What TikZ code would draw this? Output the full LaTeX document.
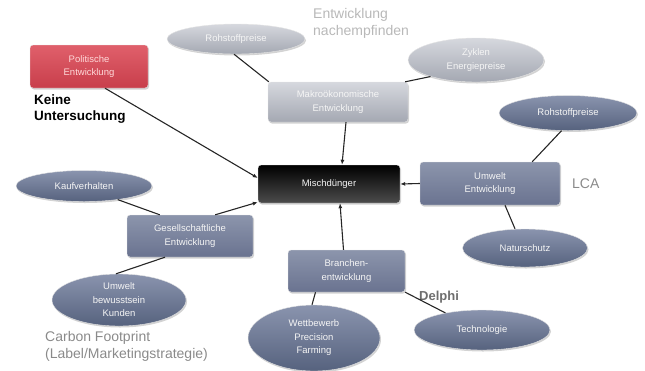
\documentclass[tikz,border=0pt]{standalone}
\usepackage{fontspec}
\setmainfont{Liberation Sans}
\usetikzlibrary{shapes.geometric,arrows.meta,shadows}
\definecolor{redA}{HTML}{E0606B}
\definecolor{redB}{HTML}{C83E4B}
\definecolor{lgA}{HTML}{D6D8DE}
\definecolor{lgB}{HTML}{A4A8B2}
\definecolor{bgA}{HTML}{8A94AE}
\definecolor{bgB}{HTML}{56627E}
\definecolor{rbA}{HTML}{8C95AC}
\definecolor{rbB}{HTML}{6A7390}
\definecolor{noteGray}{HTML}{8A8A8A}
\definecolor{noteDark}{HTML}{6E6E6E}
\definecolor{noteLight}{HTML}{B8B8B8}
\tikzset{
  every node/.style={inner sep=1pt},
  lbl/.style={text=white!92!gray, align=center, font=\fontsize{9.5}{13.5}\selectfont},
  rbox/.style={lbl, rectangle, rounded corners=3pt, draw=white!80!gray, line width=0.4pt,
     drop shadow={opacity=0.35, shadow xshift=1pt, shadow yshift=-1.5pt}},
  ell/.style={lbl, ellipse, draw=white!80!gray, line width=0.4pt, inner sep=0pt,
     drop shadow={opacity=0.35, shadow xshift=1pt, shadow yshift=-1.5pt}},
  redfill/.style={top color=redA, bottom color=redB, text=white!85!red},
  lightfill/.style={top color=lgA, bottom color=lgB},
  bluefill/.style={top color=bgA, bottom color=bgB},
  rectfill/.style={top color=rbA, bottom color=rbB},
  link/.style={draw=black!85, line width=1.1pt},
  arr/.style={link, -{Latex[length=5pt,width=4pt]}},
  note/.style={font=\fontsize{14}{17}\selectfont, align=left, anchor=north west}
}
\begin{document}
\begin{tikzpicture}[x=1pt,y=-1pt]
\useasboundingbox (0,0) rectangle (645,370);
% nodes
\node[rbox, redfill, minimum width=118pt, minimum height=43pt] (pol) at (89,66.5) {Politische\\Entwicklung};
\node[note, font=\bfseries\fontsize{13.5}{16}\selectfont] (keine) at (33,94) {Keine\\Untersuchung};

\node[ell, lightfill, minimum width=138pt, minimum height=30pt] (roh1) at (236,39) {Rohstoffpreise};
\node[note, text=noteLight] (nach) at (312,7) {Entwicklung\\nachempfinden};
\node[rbox, lightfill, minimum width=140pt, minimum height=40pt] (makro) at (338,102) {Makroökonomische\\Entwicklung};
\node[ell, lightfill, minimum width=136pt, minimum height=44pt] (energ) at (476,60) {Zyklen\\Energiepreise};

\node[ell, bluefill, minimum width=138pt, minimum height=35pt] (roh2) at (568,113) {Rohstoffpreise};
\node[rbox, top color=black, bottom color=black!70, minimum width=142pt, minimum height=38pt] (misch) at (329,184) {Mischdünger};
\node[rbox, rectfill, minimum width=140pt, minimum height=43pt] (umwelt) at (490,183.5) {Umwelt\\Entwicklung};
\node[note, text=noteGray, anchor=west] (lca) at (571,184) {LCA};
\node[ell, bluefill, minimum width=125pt, minimum height=38pt] (natur) at (525,248) {Naturschutz};

\node[ell, bluefill, minimum width=136pt, minimum height=31pt] (kauf) at (84,186) {Kaufverhalten};
\node[rbox, rectfill, minimum width=126pt, minimum height=42pt] (gesell) at (190,236) {Gesellschaftliche\\Entwicklung};
\node[ell, bluefill, minimum width=134pt, minimum height=52pt] (bewusst) at (119,300) {Umwelt\\bewusstsein\\Kunden};
\node[note, text=noteGray] (carbon) at (44,330) {Carbon Footprint\\(Label/Marketingstrategie)};

\node[rbox, rectfill, minimum width=117pt, minimum height=42pt] (branch) at (346.5,271) {Branchen-\\entwicklung};
\node[ell, bluefill, minimum width=132pt, minimum height=66pt] (wett) at (314,338) {Wettbewerb\\Precision\\Farming};
\node[note, text=noteDark, font=\bfseries\fontsize{13}{16}\selectfont, anchor=west] (delphi) at (418,297) {Delphi};
\node[ell, bluefill, minimum width=136pt, minimum height=40pt] (tech) at (482,330) {Technologie};

% connectors
\draw[arr] ([xshift=16pt]pol.south) -- ([yshift=6pt]misch.west);
\draw[arr] ([xshift=8pt]makro.south) -- ([xshift=13pt]misch.north);
\draw[arr] (umwelt.west) -- (misch.east);
\draw[arr] ([xshift=-3pt]branch.north) -- ([xshift=11pt]misch.south);
\draw[arr] ([xshift=-38pt]gesell.north east) -- ([yshift=1pt]misch.south west);
\draw[link] ([xshift=-2pt]roh1.south) -- ([xshift=1pt]makro.north west);
\draw[link] (energ.-160) -- ([xshift=-3pt]makro.north east);
\draw[link] (roh2.-110) -- ([xshift=-28pt]umwelt.north east);
\draw[link] ([xshift=15pt]umwelt.south) -- ([xshift=-10pt]natur.north);
\draw[link] (kauf.-22) -- ([xshift=33pt]gesell.north west);
\draw[link] ([xshift=-25pt]gesell.south) -- ([xshift=-3pt]bewusst.north);
\draw[link] ([xshift=-31pt]branch.south) -- ([xshift=-2pt]wett.north);
\draw[link] (branch.south east) -- (tech.155);
\end{tikzpicture}
\end{document}
